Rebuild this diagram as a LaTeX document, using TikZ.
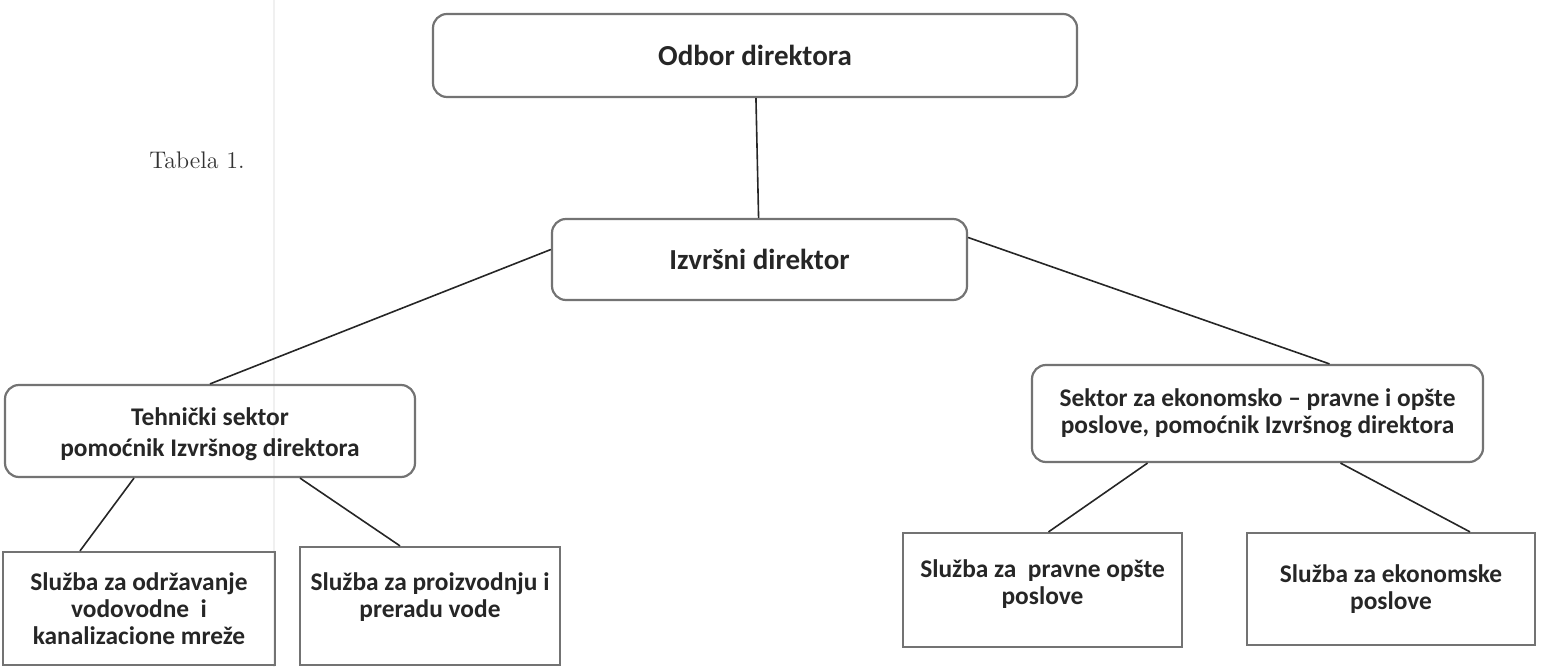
\documentclass[tikz,border=0pt]{standalone}
\usepackage{fontspec}
\usepackage{tikz}
\usetikzlibrary{positioning}
\newfontfamily\boxfont{Carlito}

\begin{document}
\begin{tikzpicture}[x=0.5pt,y=-0.5pt,
    topbox/.style={draw=black!55, line width=1.1pt, rounded corners=7pt, inner sep=0pt,
      align=center, text=black!85, font=\boxfont\bfseries\fontsize{14.5}{16}\selectfont},
    secbox/.style={topbox, font=\boxfont\bfseries\fontsize{12.7}{13.5}\selectfont},
    unitbox/.style={secbox, rounded corners=0pt},
    link/.style={line width=0.8pt, black!85}]
  \useasboundingbox (0,0) rectangle (1541,667);
  %scan edge
  \draw[black!6, line width=1pt] (274,0) -- (274,667);
  %caption
  \node[font=\fontsize{12}{14}\selectfont, text=black!80] (tab) at (197,160) {Tabela 1.};
  %boxes
  \node[topbox, minimum width=322pt, minimum height=41.5pt] (odbor) at (755,55.5) {Odbor direktora};
  \node[topbox, minimum width=207.5pt, minimum height=40.5pt] (izvrsni) at (759.5,259.5) {Izvršni direktor};
  \node[secbox, minimum width=205pt, minimum height=46pt] (tehnicki) at (210,431)
    {\mbox{}\\[-1.5pt] Tehnički sektor\\[2pt] pomoćnik Izvršnog direktora};
  \node[secbox, minimum width=225.5pt, minimum height=48.5pt] (sektor) at (1257.5,413.5)
    {Sektor za ekonomsko – pravne i opšte\\ poslove, pomoćnik Izvršnog direktora};
  \node[unitbox, minimum width=136pt, minimum height=56.5pt] (odrzavanje) at (139,608.5)
    {Služba za održavanje\\ vodovodne\ \ i\\ kanalizacione mreže};
  \node[unitbox, minimum width=130pt, minimum height=59pt] (proizvodnja) at (430,606)
    {Služba za proizvodnju i\\ preradu vode\\[-2.5pt]};
  \node[unitbox, minimum width=139.5pt, minimum height=57pt] (pravne) at (1042.5,590)
    {Služba za\ \ pravne opšte\\ poslove\\[-5.5pt]};
  \node[unitbox, minimum width=144pt, minimum height=56pt] (ekonomske) at (1391,589)
    {Služba za ekonomske\\ poslove};
  %connectors
  \draw[link] (odbor) -- (izvrsni);
  \draw[link] ([yshift=5pt]izvrsni.west) -- (tehnicki.north);
  \draw[link] ([yshift=11pt]izvrsni.east) -- ([xshift=36pt]sektor.north);
  \draw[link] ([xshift=-38pt]tehnicki.south) -- ([xshift=-29.5pt]odrzavanje.north);
  \draw[link] ([xshift=45pt]tehnicki.south) -- ([xshift=-15pt]proizvodnja.north);
  \draw[link] ([xshift=-55pt]sektor.south) -- ([xshift=3pt]pravne.north);
  \draw[link] ([xshift=41.5pt]sektor.south) -- ([xshift=39.5pt]ekonomske.north);
\end{tikzpicture}
\end{document}
